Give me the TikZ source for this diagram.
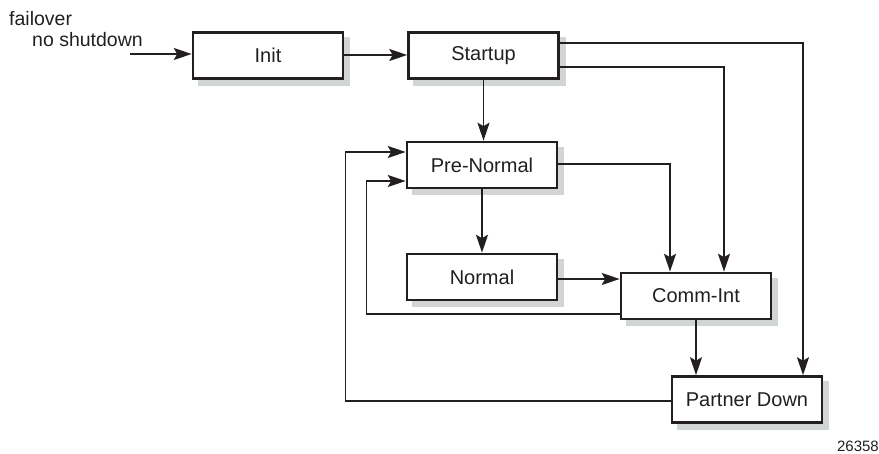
\documentclass[tikz,border=0pt]{standalone}
\usepackage{fontspec}
\setmainfont{Liberation Sans}
\usetikzlibrary{arrows.meta,backgrounds}
\definecolor{ink}{HTML}{231F20}
\definecolor{shade}{HTML}{D2D5D5}
\begin{document}
\begin{tikzpicture}[x=1pt,y=-1pt,
  statebox/.style={draw=ink, line width=2.6pt, fill=white, minimum width=150pt, minimum height=46pt,
    inner sep=0pt, text=ink, font=\fontsize{20}{24}\selectfont},
  shadowbox/.style={fill=shade},
  conn/.style={draw=ink, line width=1.5pt},
  arr/.style={conn, -{Stealth[length=18pt,width=12pt,inset=3.5pt]}},
  lbl/.style={text=ink, font=\fontsize{19.5}{23}\selectfont, inner sep=0pt, anchor=base west}]
\useasboundingbox (0,0) rectangle (879,454);

\node[statebox] (init) at (268,55.5) {Init};
\node[statebox] (startup) at (483.5,55.5) {Startup};
\node[statebox] (prenormal) at (482,165) {Pre-Normal};
\node[statebox] (normal) at (482,277) {Normal};
\node[statebox] (commint) at (696,296) {Comm-Int};
\node[statebox] (pdown) at (747,399.5) {Partner Down};

\begin{scope}[on background layer]
\foreach \n in {init,startup,prenormal,normal,commint,pdown}
  \fill[shadowbox] ([xshift=6pt,yshift=-6pt]\n.north west) rectangle ([xshift=6pt,yshift=-6pt]\n.south east);
\end{scope}

\node[lbl] (l1) at (9,26) {failover};
\node[lbl] (l2) at (32,47) {no shutdown};
\node[text=ink, font=\fontsize{15}{18}\selectfont, inner sep=0pt, anchor=base east] (fig) at (879,452) {26358};

\coordinate (in) at (130,54);
\draw[arr] (in) -- (in -| init.west);
\draw[arr] ([yshift=0.5]init.east) -- ([yshift=0.5]startup.west);
\draw[arr] ([yshift=12.5]startup.east) -| ([xshift=56]pdown.north);
\draw[arr] ([yshift=-11.5]startup.east) -| ([xshift=28]commint.north);
\draw[arr] (startup.south) -- (startup.south |- prenormal.north);
\draw[arr] ([yshift=1]prenormal.east) -| ([xshift=-26]commint.north);
\draw[arr] (prenormal.south) -- (normal.north);
\draw[arr] ([yshift=-2]normal.east) -- ([yshift=-2]normal.east -| commint.west);
\draw[arr] (commint.south) -- (commint.south |- pdown.north);
\draw[arr] ([yshift=-18]commint.west) -- ++(-253,0) |- ([yshift=-16]prenormal.west);
\draw[arr] ([yshift=-1.5]pdown.west) -- ++(-325,0) |- ([yshift=13]prenormal.west);
\end{tikzpicture}
\end{document}
